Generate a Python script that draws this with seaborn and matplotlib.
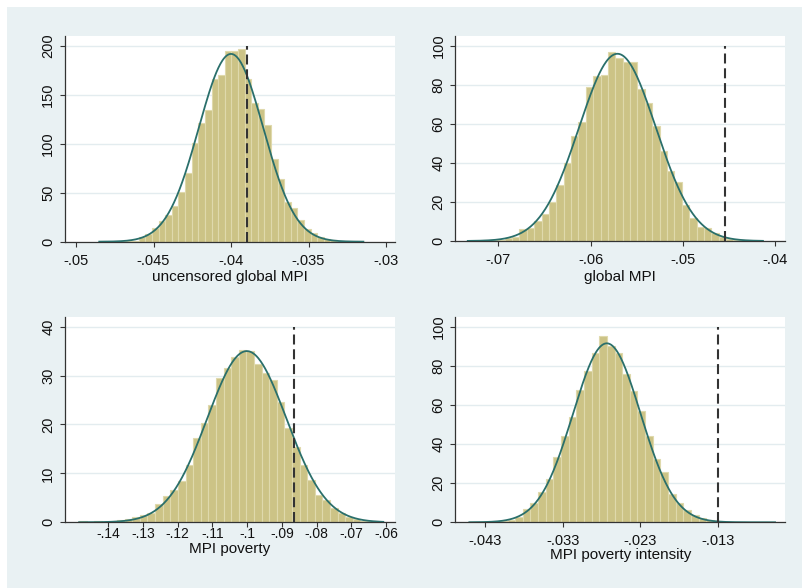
import numpy as np
import pandas as pd
import matplotlib
matplotlib.use("Agg")
import matplotlib.pyplot as plt
from matplotlib.patches import Rectangle
import seaborn as sns

# ---- data: histogram densities (40 bins per panel), normal fits, reference values ----
uncensored_heights = [0.4, 0.2, 0.0, 0.3, 0.5, 1.2, 4.5, 8, 14, 21,
                      27, 37, 51, 70, 101, 121, 135, 166, 170, 195,
                      195, 197, 166, 142, 136, 119, 85, 64, 41, 34,
                      22, 13, 9, 5, 3, 2, 1, 0.5, 0.3, 0.5]
uncensored_range = (-0.04850, -0.03146)
uncensored_fit = (-0.0400, 0.002078)
uncensored_ref = -0.0390

global_heights = [0.2, 0.2, 0.3, 0.5, 0.7, 1.5, 2.0, 6.2, 6.8, 10,
                  14, 20, 28.7, 40, 54, 61, 79, 84.6, 85, 97,
                  93.7, 92, 92, 78, 71, 59, 46, 36, 30, 18.5,
                  12, 7.3, 6.8, 4, 2, 0.8, 0.5, 0.3, 0.2, 0.2]
global_range = (-0.07331, -0.04134)
global_fit = (-0.0571, 0.004156)
global_ref = -0.0455

poverty_heights = [0.2, 0.1, 0.2, 0.1, 0.3, 0.4, 0.6, 1.0, 1.5, 1.8,
                   3.7, 5.4, 6.6, 8.4, 11.7, 17.2, 20.2, 24, 29.5, 31.5,
                   33.7, 35.3, 35.1, 32.3, 30.5, 29, 24.5, 19.2, 15.4, 11.8,
                   8.6, 5.6, 4.5, 3, 1.8, 1.1, 0.6, 0.3, 0.2, 0.1]
poverty_range = (-0.14844, -0.06077)
poverty_fit = (-0.1001, 0.0114)
poverty_ref = -0.0864

intensity_heights = [0.4, 0.3, 0.2, 0.3, 0.6, 1.2, 2.5, 7, 10, 15.7,
                     22, 33.5, 44.3, 53.6, 67.6, 77.3, 86.5, 95, 90, 86.5,
                     76, 67, 56.7, 44, 32.5, 25.6, 14.5, 9.9, 6.3, 3.7,
                     2.2, 1.2, 0.5, 0.3, 0.2, 0.2, 0.1, 0.2, 0.1, 0.3]
intensity_range = (-0.04502, -0.00561)
intensity_fit = (-0.0273, 0.00436)
intensity_ref = -0.013

x_titles = ["uncensored global MPI", "global MPI", "MPI poverty", "MPI poverty intensity"]

uncensored_xticks = [-0.05, -0.045, -0.04, -0.035, -0.03]
uncensored_xlabels = ["-.05", "-.045", "-.04", "-.035", "-.03"]
global_xticks = [-0.07, -0.06, -0.05, -0.04]
global_xlabels = ["-.07", "-.06", "-.05", "-.04"]
poverty_xticks = [-0.14, -0.13, -0.12, -0.11, -0.10, -0.09, -0.08, -0.07, -0.06]
poverty_xlabels = ["-.14", "-.13", "-.12", "-.11", "-.1", "-.09", "-.08", "-.07", "-.06"]
intensity_xticks = [-0.043, -0.033, -0.023, -0.013]
intensity_xlabels = ["-.043", "-.033", "-.023", "-.013"]

uncensored_yticks = [0, 50, 100, 150, 200]
global_yticks = [0, 20, 40, 60, 80, 100]
poverty_yticks = [0, 10, 20, 30, 40]
intensity_yticks = [0, 20, 40, 60, 80, 100]

# ---- styling ----
BG = "#E9F1F3"
GRID = "#E3ECEF"
BAR = "#CCC386"
BAR_EDGE = "#DFD9AC"
CURVE = "#2A6F6B"
AXIS = "#333333"

plt.rcParams["font.family"] = ["Liberation Sans", "DejaVu Sans"]

W, H = 802, 588
fig = plt.figure(figsize=(W / 100, H / 100), dpi=100)
fig.patch.set_facecolor("white")
fig.add_artist(Rectangle((7 / W, 0), 1 - 7 / W, 1 - 7 / H, transform=fig.transFigure,
                         facecolor=BG, edgecolor="none", zorder=0))


def px_axes(left, top, right, bottom):
    return fig.add_axes([left / W, 1 - bottom / H, (right - left) / W, (bottom - top) / H])


panels = [
    dict(box=(65, 36, 395, 241.7), heights=uncensored_heights, rng=uncensored_range,
         fit=uncensored_fit, ref=uncensored_ref, xlim=(-0.05071, -0.02942), ytop=210.3,
         xticks=uncensored_xticks, xlabels=uncensored_xlabels, yticks=uncensored_yticks,
         title=x_titles[0], tsize=10.5, tpad=5.0, lpad=2.0),
    dict(box=(455.3, 36, 785.3, 241), heights=global_heights, rng=global_range,
         fit=global_fit, ref=global_ref, xlim=(-0.07466, -0.03892), ytop=105.1,
         xticks=global_xticks, xlabels=global_xlabels, yticks=global_yticks,
         title=x_titles[1], tsize=10.5, tpad=5.0, lpad=2.0),
    dict(box=(65, 317.3, 395, 522.3), heights=poverty_heights, rng=poverty_range,
         fit=poverty_fit, ref=poverty_ref, xlim=(-0.15248, -0.05740), ytop=41.9,
         xticks=poverty_xticks, xlabels=poverty_xlabels, yticks=poverty_yticks,
         title=x_titles[2], tsize=10.0, tpad=0.0, lpad=0.5),
    dict(box=(455.3, 317.3, 785.3, 522.3), heights=intensity_heights, rng=intensity_range,
         fit=intensity_fit, ref=intensity_ref, xlim=(-0.04683, -0.00429), ytop=104.8,
         xticks=intensity_xticks, xlabels=intensity_xlabels, yticks=intensity_yticks,
         title=x_titles[3], tsize=10.5, tpad=5.0, lpad=0.0),
]

for p in panels:
    ax = px_axes(*p["box"])
    ax.set_facecolor("white")
    ax.set_axisbelow(True)

    heights = [float(v) for v in p["heights"]]
    lo, hi = p["rng"]
    edges = np.linspace(lo, hi, len(heights) + 1).tolist()
    centers = [0.5 * (a + b) for a, b in zip(edges[:-1], edges[1:])]
    bars = pd.DataFrame({"value": centers, "density": heights})
    sns.histplot(data=bars, x="value", weights="density", bins=edges, ax=ax,
                 color=BAR, edgecolor=BAR_EDGE, linewidth=0.8, alpha=1.0)

    mu, sd = p["fit"]
    xs = np.linspace(lo, hi, 400)
    ys = np.exp(-0.5 * ((xs - mu) / sd) ** 2) / (sd * np.sqrt(2 * np.pi))
    curve = pd.DataFrame({"value": xs, "pdf": ys})
    sns.lineplot(data=curve, x="value", y="pdf", ax=ax, color=CURVE, linewidth=1.3,
                 sort=False, zorder=3)

    ax.vlines(p["ref"], 0, p["yticks"][-1], colors=AXIS, linewidth=1.5,
              linestyles=(0, (4.8, 2.3)), zorder=4)

    ax.set_xlim(*p["xlim"])
    ax.set_ylim(0, p["ytop"])
    ax.set_xticks(p["xticks"])
    ax.set_xticklabels(p["xlabels"])
    ax.set_yticks(p["yticks"])
    ax.set_yticklabels([str(v) for v in p["yticks"]], rotation=90, va="center")

    ax.yaxis.grid(True, color=GRID, linewidth=1.0)
    ax.xaxis.grid(False)
    for side in ("top", "right"):
        ax.spines[side].set_visible(False)
    for side in ("left", "bottom"):
        ax.spines[side].set_color(AXIS)
        ax.spines[side].set_linewidth(0.9)
    ax.tick_params(axis="both", direction="out", length=3.6, width=0.8, color=AXIS,
                   labelcolor="#111111")
    ax.tick_params(axis="x", labelsize=p["tsize"], pad=p["tpad"])
    ax.tick_params(axis="y", labelsize=10.5, pad=3.5)

    ax.set_xlabel(p["title"], fontsize=11, labelpad=p["lpad"], color="#111111")
    ax.set_ylabel("")

fig.savefig("out.png", dpi=100, facecolor=fig.get_facecolor())
